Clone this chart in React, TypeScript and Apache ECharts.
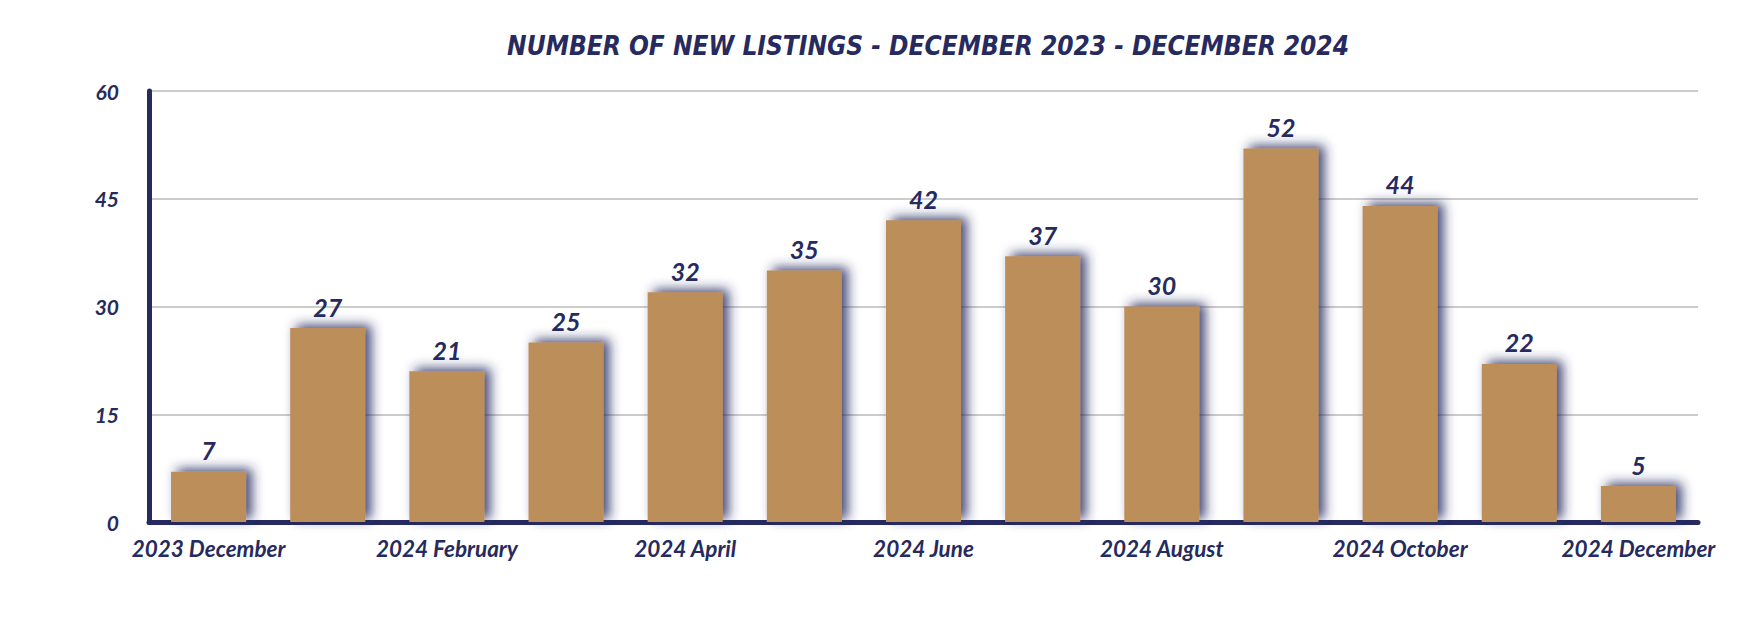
import React, { useEffect, useRef } from "react";
import * as echarts from "echarts";

const categories = [
  "2023 December", "2024 January", "2024 February", "2024 March", "2024 April",
  "2024 May", "2024 June", "2024 July", "2024 August", "2024 September",
  "2024 October", "2024 November", "2024 December",
];
const newListings = [7, 27, 21, 25, 32, 35, 42, 37, 30, 52, 44, 22, 5];
const yTicks = { min: 0, max: 60, interval: 15 };
const titleText = "NUMBER OF NEW LISTINGS - DECEMBER 2023 - DECEMBER 2024";

const NAVY = "#262a5e";
const GOLD = "#bb8e5a";
const FONT = "Lato, 'Open Sans', sans-serif";

export default function App() {
  const ref = useRef<HTMLDivElement>(null);
  useEffect(() => {
    if (!ref.current) return;
    const chart = echarts.init(ref.current, null, { renderer: "svg" });
    chart.setOption({
      animation: false,
      backgroundColor: "#ffffff",
      title: {
        text: titleText,
        left: 923,
        top: 28,
        textAlign: "center",
        textStyle: {
          color: NAVY,
          fontFamily: "'Liberation Sans Narrow', 'DejaVu Sans Condensed', sans-serif",
          fontStyle: "italic",
          fontWeight: "bold",
          fontSize: 26,
        },
      },
      grid: { left: 149, right: 52, top: 91, bottom: 106, containLabel: false },
      xAxis: {
        type: "category",
        data: categories,
        axisLine: { show: true, lineStyle: { color: NAVY, width: 5 } },
        axisTick: { show: false },
        axisLabel: {
          interval: 1,
          color: NAVY,
          fontFamily: FONT,
          fontStyle: "italic",
          fontWeight: "bold",
          fontSize: 22.5,
          margin: 15,
        },
      },
      yAxis: {
        type: "value",
        min: yTicks.min,
        max: yTicks.max,
        interval: yTicks.interval,
        axisLine: { show: true, lineStyle: { color: NAVY, width: 5 } },
        axisTick: { show: false },
        splitLine: { show: true, lineStyle: { color: "#bbbbbb", width: 1.5 } },
        axisLabel: {
          color: NAVY,
          fontFamily: FONT,
          fontStyle: "italic",
          fontWeight: "bold",
          fontSize: 21,
          margin: 30,
        },
      },
      series: [
        {
          type: "bar",
          data: newListings,
          barWidth: "63%",
          itemStyle: {
            color: GOLD,
            shadowColor: "rgba(38,42,94,0.85)",
            shadowBlur: 12,
            shadowOffsetX: 6,
            shadowOffsetY: -3,
          },
          label: {
            show: true,
            position: "top",
            distance: 9,
            color: NAVY,
            fontFamily: FONT,
            fontStyle: "italic",
            fontWeight: "bold",
            fontSize: 25,
          },
        },
      ],
    });
    return () => chart.dispose();
  }, []);
  return (
    <div
      ref={ref}
      style={{ position: "absolute", left: 0, top: 0, width: 1750, height: 628 }}
    />
  );
}
